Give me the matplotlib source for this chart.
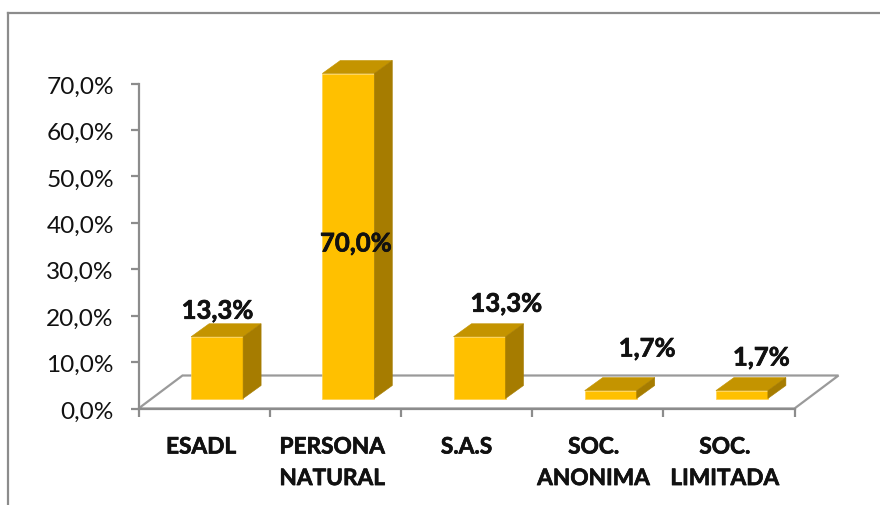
import matplotlib
matplotlib.use("Agg")
import matplotlib.pyplot as plt
import matplotlib.patheffects as pe
from matplotlib.patches import Polygon
from matplotlib.lines import Line2D
from matplotlib.transforms import ScaledTranslation

categories = ["ESADL", "PERSONA\nNATURAL", "S.A.S", "SOC.\nANONIMA", "SOC.\nLIMITADA"]
values = [13.3, 70.0, 13.3, 1.7, 1.7]
value_labels = ["13,3%", "70,0%", "13,3%", "1,7%", "1,7%"]
y_ticks = [0, 10, 20, 30, 40, 50, 60, 70]
y_tick_labels = ["0,0%", "10,0%", "20,0%", "30,0%", "40,0%", "50,0%", "60,0%", "70,0%"]

W, H = 880, 505
plt.rcParams['font.family'] = ['Lato', 'DejaVu Sans']
fig = plt.figure(figsize=(W / 100, H / 100), dpi=100)

AX_L, AX_R, AX_B, AX_T = 138.5, 794.5, 408.5, 83.5
ax = fig.add_axes([AX_L / W, 1 - AX_B / H, (AX_R - AX_L) / W, (AX_B - AX_T) / H])
ax.set_xlim(-0.5, 4.5)
ax.set_ylim(0, 70)
ax.patch.set_alpha(0)
GRAY = "#8c8c8c"
for s in ("top", "right"):
    ax.spines[s].set_visible(False)
for s in ("left", "bottom"):
    ax.spines[s].set_color(GRAY)
    ax.spines[s].set_linewidth(1.6)

ux = 5.0 / (AX_R - AX_L)      # data units per pixel, x
uy = 70.0 / (AX_B - AX_T)     # data units per pixel, y
dx, dy = 18 * ux, 13 * uy     # bar depth
floor_dx, floor_dy = 44 * ux, 33 * uy
base = 10 * uy                # bars stand on the floor
half = 26 * ux
shift = 13 * ux               # bars sit in the middle of the floor depth

# floor
ax.add_patch(Polygon([(-0.5, 0), (4.5, 0), (4.5 + floor_dx, floor_dy), (-0.5 + floor_dx, floor_dy)],
                     closed=True, fc="none", ec="#9a9a9a", lw=1.6, clip_on=False, zorder=1))

FRONT, TOP, SIDE = "#ffc000", "#c49400", "#a67c00"
xs = list(range(len(values)))
for x, v in zip(xs, values):
    c = x + shift
    y0 = base
    y1 = base + v
    ax.bar(c, v, bottom=y0, width=2 * half, color=FRONT, zorder=3,
           edgecolor="#ffd24d", linewidth=0.5, clip_on=False)
    ax.add_patch(Polygon([(c - half, y1), (c + half, y1), (c + half + dx, y1 + dy), (c - half + dx, y1 + dy)],
                         closed=True, fc=TOP, ec=TOP, lw=0.4, zorder=3, clip_on=False))
    ax.add_patch(Polygon([(c + half, y0), (c + half, y1), (c + half + dx, y1 + dy), (c + half + dx, y0 + dy)],
                         closed=True, fc=SIDE, ec=SIDE, lw=0.4, zorder=3, clip_on=False))

ax.set_yticks(y_ticks)
ax.set_yticklabels(y_tick_labels, fontsize=17.6, color="#111111")
ax.set_xticks([-0.5, 0.5, 1.5, 2.5, 3.5, 4.5])
ax.set_xticklabels([])
ax.tick_params(axis="both", color=GRAY, width=1.6, length=5.8)
ax.tick_params(axis="y", pad=12)
nudge = ScaledTranslation(0, -1.5 / 100, fig.dpi_scale_trans)
for lab in ax.get_yticklabels():
    lab.set_transform(lab.get_transform() + nudge)

heavy = [pe.withStroke(linewidth=0.5, foreground="#111111")]

# category labels
cat_dx = [-3, -3, 0, -4, -4]
for x, lab, d in zip(xs, categories, cat_dx):
    ax.annotate(lab, (x, 0), xytext=(d, -28), textcoords="offset pixels", ha="center", va="top",
                fontsize=16.3, fontweight="bold", color="#111111", linespacing=1.62,
                annotation_clip=False, path_effects=heavy)

# value labels
label_off = [(13.5, 36), (20.6, -160), (39.9, 43), (49.5, 52), (32.5, 43)]
for x, v, t, off in zip(xs, values, value_labels, label_off):
    ax.annotate(t, (x, v), xytext=off, textcoords="offset pixels", ha="center", va="center",
                fontsize=18.5, fontweight="bold", color="#111111", zorder=6, annotation_clip=False,
                path_effects=heavy)

# chart frame (left and top only reach the crop)
fig.add_artist(Line2D([7.5 / W, 7.5 / W], [1 - 505 / H, 1 - 13 / H], color=GRAY, lw=1.6))
fig.add_artist(Line2D([7.5 / W, 880 / W], [1 - 13 / H, 1 - 13 / H], color=GRAY, lw=1.6))

fig.savefig("out.png", dpi=100, facecolor="white")
